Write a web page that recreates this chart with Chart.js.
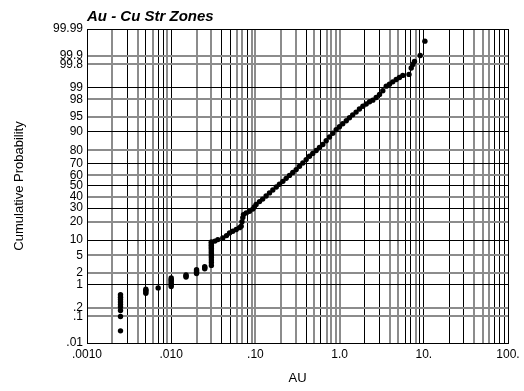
<!DOCTYPE html>
<html>
<head>
<meta charset="utf-8">
<title>Au - Cu Str Zones</title>
<script src="https://cdn.jsdelivr.net/npm/chart.js@4/dist/chart.umd.min.js"></script>
<style>
  html, body { margin: 0; padding: 0; background: #fff; }
  #chart { display: block; }
</style>
</head>
<body>
<canvas id="chart" width="524" height="391"></canvas>
<script>
// Sample AU grades (sorted) and their cumulative probability (%)
const auGrade = [
  0.0025, 0.0025, 0.0025, 0.0025, 0.0025, 0.0025, 0.0025, 0.0025, 0.0025,
  0.005, 0.005, 0.005, 0.005,
  0.007,
  0.01, 0.01, 0.01, 0.01, 0.01, 0.01, 0.01,
  0.015, 0.015, 0.015,
  0.02, 0.02, 0.02, 0.02,
  0.025, 0.025, 0.025,
  0.03, 0.03, 0.03, 0.03, 0.03, 0.03, 0.03, 0.03, 0.03, 0.03, 0.03, 0.03, 0.03, 0.03,
  0.033, 0.0358, 0.0410, 0.0454, 0.0493, 0.0539, 0.0592, 0.0647, 0.0678, 0.0693, 0.0709, 0.0722,
  0.0778, 0.0851, 0.0931, 0.097, 0.102, 0.112, 0.122, 0.134, 0.147, 0.161, 0.177, 0.193,
  0.212, 0.232, 0.254, 0.278, 0.305, 0.334, 0.366, 0.401, 0.439, 0.480, 0.527, 0.577,
  0.632, 0.693, 0.759, 0.830, 0.911, 0.997, 1.09, 1.20, 1.31, 1.43, 1.57, 1.72,
  1.89, 2.07, 2.27, 2.48, 2.72, 2.98, 3.26, 3.58, 3.91, 4.28, 4.70, 5.14, 5.63,
  6.67, 7.09, 7.40, 7.75, 9.06, 10.3
];
const cumProbability = [
  0.03, 0.10, 0.16, 0.21, 0.25, 0.30, 0.36, 0.42, 0.50,
  0.55, 0.61, 0.67, 0.72,
  0.79,
  0.86, 0.95, 1.05, 1.15, 1.25, 1.35, 1.46,
  1.55, 1.65, 1.75,
  1.9, 2.05, 2.2, 2.38,
  2.5, 2.65, 2.8,
  3.0, 3.5, 4.0, 4.5, 5.0, 5.5, 6.0, 6.5, 7.0, 7.5, 8.0, 8.5, 9.0, 9.3,
  9.6, 10.2, 10.9, 12.0, 13.3, 14.2, 15.1, 16.2, 17.0, 19.9, 22.7, 24.9,
  26.2, 27.4, 29.2, 31.0, 33.0, 35.6, 37.8, 40.6, 43.5, 46.2, 49.0, 51.7,
  54.4, 57.2, 59.9, 62.5, 65.1, 68.0, 70.7, 73.4, 75.9, 78.0, 80.0, 81.9,
  83.7, 85.8, 87.7, 89.4, 90.9, 92.0, 93.0, 93.9, 94.7, 95.4, 96.0, 96.6,
  97.05, 97.4, 97.7, 97.9, 98.2, 98.5, 98.8, 99.1, 99.2, 99.32, 99.42, 99.49, 99.56,
  99.59, 99.74, 99.80, 99.84, 99.90, 99.97
];

// Axis ticks
const auDecades = [0.001, 0.01, 0.1, 1, 10, 100];
const auDecadeLabels = ['.0010', '.010', '.10', '1.0', '10.', '100.'];
const probTicks = [0.01, 0.1, 0.2, 1, 2, 5, 10, 20, 30, 40, 50, 60, 70, 80, 90, 95, 98, 99, 99.8, 99.9, 99.99];
const probTickLabels = ['.01', '.1', '.2', '1', '2', '5', '10', '20', '30', '40', '50', '60', '70', '80', '90', '95', '98', '99', '99.8', '99.9', '99.99'];

const chartTitle = 'Au - Cu Str Zones';
const xTitle = 'AU';
const yTitle = 'Cumulative Probability';

// Inverse standard normal CDF (Acklam's rational approximation)
function normInv(p) {
  const a = [-3.969683028665376e+01, 2.209460984245205e+02, -2.759285104469687e+02, 1.383577518672690e+02, -3.066479806614716e+01, 2.506628277459239e+00];
  const b = [-5.447609879822406e+01, 1.615858368580409e+02, -1.556989798598866e+02, 6.680131188771972e+01, -1.328068155288572e+01];
  const c = [-7.784894002430293e-03, -3.223964580411365e-01, -2.400758277161838e+00, -2.549732539343734e+00, 4.374664141464968e+00, 2.938163982698783e+00];
  const d = [7.784695709041462e-03, 3.224671290700398e-01, 2.445134137142996e+00, 3.754408661907416e+00];
  const pl = 0.02425, ph = 1 - pl;
  let q, r;
  if (p < pl) {
    q = Math.sqrt(-2 * Math.log(p));
    return (((((c[0]*q+c[1])*q+c[2])*q+c[3])*q+c[4])*q+c[5]) / ((((d[0]*q+d[1])*q+d[2])*q+d[3])*q+1);
  }
  if (p > ph) {
    q = Math.sqrt(-2 * Math.log(1 - p));
    return -(((((c[0]*q+c[1])*q+c[2])*q+c[3])*q+c[4])*q+c[5]) / ((((d[0]*q+d[1])*q+d[2])*q+d[3])*q+1);
  }
  q = p - 0.5; r = q * q;
  return (((((a[0]*r+a[1])*r+a[2])*r+a[3])*r+a[4])*r+a[5])*q / (((((b[0]*r+b[1])*r+b[2])*r+b[3])*r+b[4])*r+1);
}
// Standard normal CDF
function normCdf(z) {
  const t = 1 / (1 + 0.3275911 * Math.abs(z) / Math.SQRT2);
  const y = 1 - (((((1.061405429*t - 1.453152027)*t) + 1.421413741)*t - 0.284496736)*t + 0.254829592)*t * Math.exp(-z*z/2);
  return z >= 0 ? 0.5 * (1 + y) : 0.5 * (1 - y);
}

// Normal-probability axis: values are percentages, spaced by their normal score
class ProbabilityScale extends Chart.Scale {
  static id = 'probability';
  static defaults = {};
  determineDataLimits() {
    this.min = this.options.min;
    this.max = this.options.max;
  }
  buildTicks() {
    return probTicks.map(value => ({ value }));
  }
  getLabelForValue(value) { return String(value); }
  _zRange() {
    return [normInv(this.min / 100), normInv(this.max / 100)];
  }
  getPixelForValue(value) {
    const [z0, z1] = this._zRange();
    return this.getPixelForDecimal((normInv(value / 100) - z0) / (z1 - z0));
  }
  getValueForPixel(pixel) {
    const [z0, z1] = this._zRange();
    return 100 * normCdf(z0 + this.getDecimalForPixel(pixel) * (z1 - z0));
  }
}
Chart.register(ProbabilityScale);

// Thin grid lines that fall between device pixels are shown as a soft 2px grey line
function softLine(ctx) {
  const px = ctx.scale.getPixelForValue(ctx.tick.value);
  const f = px - Math.floor(px);
  return f > 0.25 && f < 0.75;
}
const gridStyle = {
  color: ctx => softLine(ctx) ? '#8c8c8c' : '#000000',
  lineWidth: ctx => softLine(ctx) ? 2 : 1,
  drawTicks: false
};

Chart.defaults.font.family = '"Liberation Sans", Arial, Helvetica, sans-serif';
Chart.defaults.color = '#000';

const points = auGrade.map((x, i) => ({ x, y: cumProbability[i] }));

new Chart(document.getElementById('chart'), {
  type: 'scatter',
  data: {
    datasets: [{
      label: 'AU',
      data: points,
      backgroundColor: '#000',
      borderWidth: 0,
      pointRadius: 2.7,
      pointHoverRadius: 2.7
    }]
  },
  options: {
    responsive: false,
    animation: false,
    events: [],
    devicePixelRatio: 1,
    layout: { padding: { left: 0, right: 16, top: 0, bottom: 0 } },
    plugins: {
      legend: { display: false },
      tooltip: { enabled: false },
      title: {
        display: true,
        text: chartTitle,
        align: 'start',
        fullSize: false,
        color: '#000',
        font: { size: 15, weight: 'bold', style: 'italic' },
        padding: { top: 8, bottom: 3 }
      }
    },
    scales: {
      x: {
        type: 'logarithmic',
        position: 'bottom',
        min: 0.001,
        max: 100,
        afterBuildTicks(axis) {
          const ticks = [];
          auDecades.forEach((d, i) => {
            ticks.push({ value: d });
            if (i < auDecades.length - 1) {
              for (let m = 2; m <= 9; m++) ticks.push({ value: +(m * d).toPrecision(2) });
            }
          });
          axis.ticks = ticks;
        },
        afterFit(axis) { axis.height = 48; },
        ticks: {
          autoSkip: false,
          maxRotation: 0,
          padding: 4,
          font: { size: 12 },
          color: '#000',
          callback: value => {
            const i = auDecades.indexOf(value);
            return i >= 0 ? auDecadeLabels[i] : '';
          }
        },
        grid: gridStyle,
        border: { display: true, color: '#000', width: 1 },
        title: {
          display: true,
          text: xTitle,
          color: '#000',
          font: { size: 13 },
          padding: { top: 9, bottom: 5 }
        }
      },
      y: {
        type: 'probability',
        position: 'left',
        min: 0.01,
        max: 99.99,
        afterFit(axis) { axis.width = 87; },
        ticks: {
          autoSkip: false,
          padding: 4,
          font: { size: 12 },
          color: '#000',
          callback: value => {
            const i = probTicks.indexOf(value);
            return i >= 0 ? probTickLabels[i] : '';
          }
        },
        grid: gridStyle,
        border: { display: true, color: '#000', width: 1 },
        title: {
          display: true,
          text: yTitle,
          color: '#000',
          font: { size: 13 },
          padding: { top: 12, bottom: 4 }
        }
      }
    }
  }
});
</script>
</body>
</html>
